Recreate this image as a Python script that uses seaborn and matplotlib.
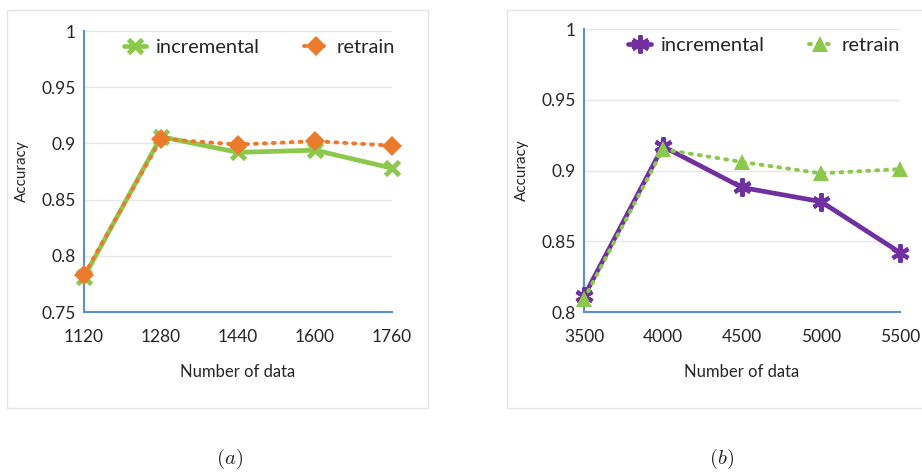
import matplotlib
matplotlib.use("Agg")
import matplotlib.pyplot as plt
import seaborn as sns
import pandas as pd
from matplotlib.patches import Rectangle
from matplotlib.ticker import FuncFormatter

# -------------------------------
# Data
# -------------------------------
n_data_a = [1120, 1280, 1440, 1600, 1760]
incremental_a = [0.781, 0.906, 0.892, 0.894, 0.878]
retrain_a = [0.783, 0.904, 0.899, 0.902, 0.898]

n_data_b = [3500, 4000, 4500, 5000, 5500]
incremental_b = [0.811, 0.917, 0.888, 0.878, 0.842]
retrain_b = [0.809, 0.915, 0.906, 0.898, 0.901]

yticks_a = [0.75, 0.8, 0.85, 0.9, 0.95, 1.0]
yticks_b = [0.8, 0.85, 0.9, 0.95, 1.0]

sns.set_style("white")
plt.rcParams["font.family"] = ["Lato", "DejaVu Sans"]
plt.rcParams["mathtext.fontset"] = "cm"

GREEN = "#8cc84b"
ORANGE = "#ec7a2c"
PURPLE = "#7030a0"
BLUE = "#5b8fd0"
TXT = "#262626"

fig = plt.figure(figsize=(9.22, 4.73), dpi=100)

# light gray frames around each panel
fig.patches.append(Rectangle((7 / 922, 1 - 408 / 473), 421 / 922, 398 / 473,
                             transform=fig.transFigure, fill=False,
                             edgecolor="#e4e4e4", linewidth=1))
fig.patches.append(Rectangle((507 / 922, 1 - 408 / 473), 420 / 922, 398 / 473,
                             transform=fig.transFigure, fill=False,
                             edgecolor="#e4e4e4", linewidth=1))

ax_a = fig.add_axes([84 / 922, 1 - 312 / 473, 308 / 922, 281 / 473])
ax_b = fig.add_axes([584 / 922, 1 - 312 / 473, 316 / 922, 283 / 473])


def draw_panel(ax, x, inc, ret, inc_style, ret_style, yticks):
    df = pd.DataFrame({"x": x, "incremental": inc, "retrain": ret})
    sns.lineplot(data=df, x="x", y="incremental", ax=ax, label="incremental",
                 color=inc_style["color"], marker=inc_style["marker"],
                 markersize=inc_style["ms"], markeredgewidth=inc_style["mew"],
                 markeredgecolor=inc_style["color"], linewidth=3.4,
                 clip_on=False, zorder=3)
    sns.lineplot(data=df, x="x", y="retrain", ax=ax, label="retrain",
                 color=ret_style["color"], marker=ret_style["marker"],
                 markersize=ret_style["ms"], markeredgewidth=0,
                 linewidth=2.8, linestyle=(0, (0.5, 1.8)),
                 dash_capstyle="round", clip_on=False, zorder=4)

    ax.set_xlim(x[0], x[-1])
    ax.set_ylim(yticks[0], yticks[-1])
    ax.set_xticks(x)
    ax.set_yticks(yticks)
    ax.yaxis.set_major_formatter(FuncFormatter(lambda v, p: "%g" % v))
    ax.grid(axis="y", color="#e6e6e6", linewidth=1)
    ax.set_axisbelow(True)

    for side in ["top", "right"]:
        ax.spines[side].set_visible(False)
    for side in ["left", "bottom"]:
        ax.spines[side].set_color(BLUE)
        ax.spines[side].set_linewidth(1.5)

    ax.tick_params(axis="both", direction="in", length=7, width=1.5,
                   color=BLUE, labelsize=12.5, labelcolor=TXT)
    ax.tick_params(axis="x", pad=12)
    ax.tick_params(axis="y", pad=6)
    ax.set_xlabel("Number of data", fontsize=12, color=TXT, labelpad=14)
    ax.set_ylabel("Accuracy", fontsize=11, color=TXT)

    leg = ax.legend(loc="upper center", bbox_to_anchor=(0.57, 1.035), ncol=2,
                    frameon=False, fontsize=14.5, handlelength=1.1,
                    handletextpad=0.5, columnspacing=2.2)
    for t in leg.get_texts():
        t.set_color(TXT)


draw_panel(ax_a, n_data_a, incremental_a, retrain_a,
           {"color": GREEN, "marker": "x", "ms": 10, "mew": 3.5},
           {"color": ORANGE, "marker": "D", "ms": 10},
           yticks_a)
draw_panel(ax_b, n_data_b, incremental_b, retrain_b,
           {"color": PURPLE, "marker": (6, 2, 0), "ms": 13, "mew": 3},
           {"color": GREEN, "marker": "^", "ms": 11},
           yticks_b)

ax_a.yaxis.set_label_coords(-0.18, 0.5)
ax_b.yaxis.set_label_coords(-0.175, 0.5)

fig.text(230 / 922, 1 - 459 / 473, r"$(a)$", fontsize=15, ha="center", va="center")
fig.text(722 / 922, 1 - 459 / 473, r"$(b)$", fontsize=15, ha="center", va="center")

fig.savefig("out.png", dpi=100)
